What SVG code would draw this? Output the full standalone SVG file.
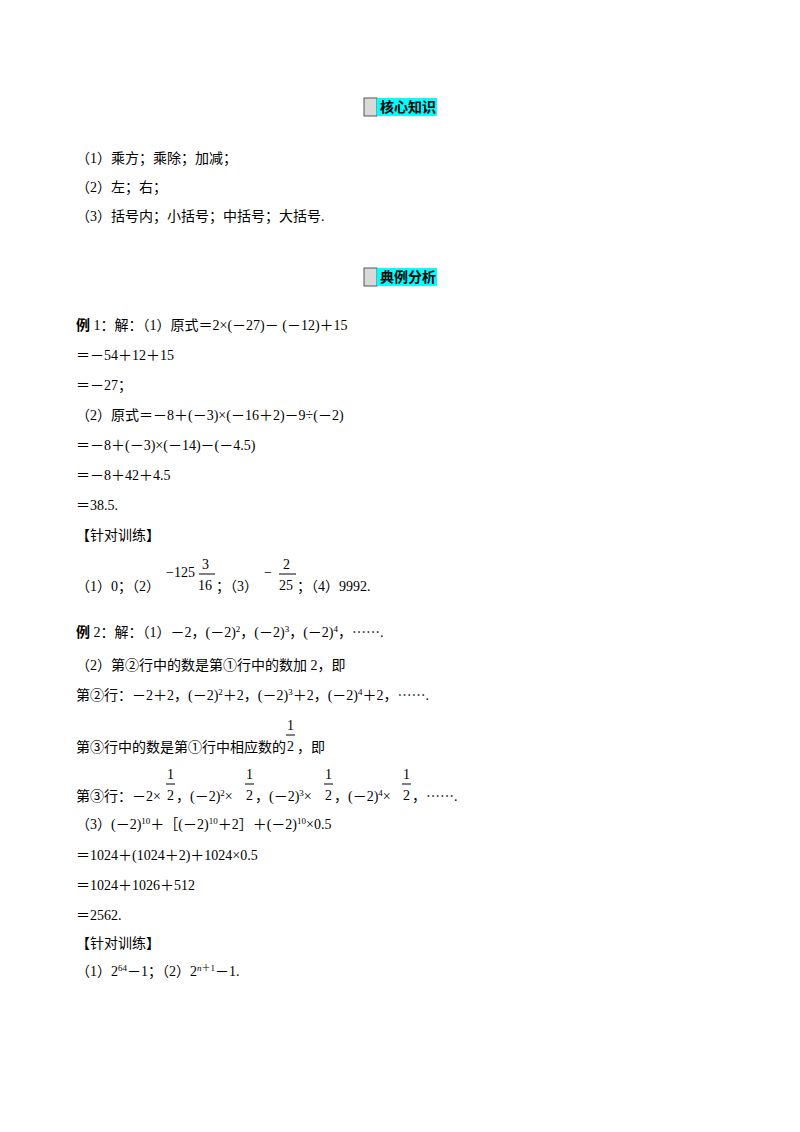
<svg xmlns="http://www.w3.org/2000/svg" width="800" height="1132" viewBox="0 0 800 1132">
<style>
text{font-family:"Liberation Serif","Noto Sans CJK SC",serif;font-size:14px;fill:#000}
.h{font-family:"Noto Sans CJK SC",sans-serif;font-weight:bold;font-size:14px}
.b{font-weight:bold}
.s{font-size:9px}
line{stroke:#000;stroke-width:1}
</style>
<rect width="800" height="1132" fill="#fff"/>
<g id="hdr1"><rect x="364" y="98" width="13" height="18" fill="#d9d9d9" stroke="#555"/><rect x="377" y="98" width="60" height="18" fill="#00ffff"/><text class="h" x="380" y="112">核心知识</text></g>
<text x="76" y="163">（1）乘方；乘除；加减；</text>
<text x="76" y="192">（2）左；右；</text>
<text x="76" y="221">（3）括号内；小括号；中括号；大括号.</text>
<g id="hdr2"><rect x="364" y="268" width="13" height="18" fill="#d9d9d9" stroke="#555"/><rect x="377" y="268" width="60" height="18" fill="#00ffff"/><text class="h" x="380" y="282">典例分析</text></g>
<text x="76" y="330"><tspan class="b">例</tspan> 1：解：（1）原式＝2×(－27)－ (－12)＋15</text>
<text x="76" y="360">＝－54＋12＋15</text>
<text x="76" y="390">＝－27；</text>
<text x="76" y="420">（2）原式＝－8＋(－3)×(－16＋2)－9÷(－2)</text>
<text x="76" y="450">＝－8＋(－3)×(－14)－(－4.5)</text>
<text x="76" y="480">＝－8＋42＋4.5</text>
<text x="76" y="510">＝38.5.</text>
<text x="76" y="540">【针对训练】</text>
<text x="76" y="591">（1）0；（2）</text>
<text x="166" y="577">−125</text>
<text x="202" y="569">3</text><line x1="199" y1="574" x2="215" y2="574"/><text x="198" y="590">16</text>
<text x="216" y="591">；（3）</text>
<text x="264" y="577">−</text>
<text x="283" y="569">2</text><line x1="279" y1="574" x2="296" y2="574"/><text x="279" y="590">25</text>
<text x="297" y="591">；（4）9992.</text>
<text x="76" y="637"><tspan class="b">例</tspan> 2：解：（1）－2，(－2)<tspan class="s" dy="-5">2</tspan><tspan dy="5">，(－2)</tspan><tspan class="s" dy="-5">3</tspan><tspan dy="5">，(－2)</tspan><tspan class="s" dy="-5">4</tspan><tspan dy="5">，⋯⋯.</tspan></text>
<text x="76" y="670">（2）第②行中的数是第①行中的数加 2，即</text>
<text x="76" y="700">第②行：－2＋2，(－2)<tspan class="s" dy="-5">2</tspan><tspan dy="5">＋2，(－2)</tspan><tspan class="s" dy="-5">3</tspan><tspan dy="5">＋2，(－2)</tspan><tspan class="s" dy="-5">4</tspan><tspan dy="5">＋2，⋯⋯.</tspan></text>
<text x="76" y="752">第③行中的数是第①行中相应数的</text>
<text x="287" y="730">1</text><line x1="286" y1="735" x2="295" y2="735"/><text x="287" y="751">2</text>
<text x="297" y="752">，即</text>
<text x="76" y="801">第③行：－2×</text>
<text x="167" y="779">1</text><line x1="166" y1="784" x2="175" y2="784"/><text x="167" y="800">2</text>
<text x="176" y="801">，(－2)<tspan class="s" dy="-5">2</tspan><tspan dy="5">×</tspan></text>
<text x="246" y="779">1</text><line x1="245" y1="784" x2="254" y2="784"/><text x="246" y="800">2</text>
<text x="255" y="801">，(－2)<tspan class="s" dy="-5">3</tspan><tspan dy="5">×</tspan></text>
<text x="325" y="779">1</text><line x1="324" y1="784" x2="333" y2="784"/><text x="325" y="800">2</text>
<text x="334" y="801">，(－2)<tspan class="s" dy="-5">4</tspan><tspan dy="5">×</tspan></text>
<text x="403" y="779">1</text><line x1="402" y1="784" x2="411" y2="784"/><text x="403" y="800">2</text>
<text x="412" y="801">，⋯⋯.</text>
<text x="76" y="829">（3）(－2)<tspan class="s" dy="-5">10</tspan><tspan dy="5">＋［(－2)</tspan><tspan class="s" dy="-5">10</tspan><tspan dy="5">＋2］＋(－2)</tspan><tspan class="s" dy="-5">10</tspan><tspan dy="5">×0.5</tspan></text>
<text x="76" y="860">＝1024＋(1024＋2)＋1024×0.5</text>
<text x="76" y="890">＝1024＋1026＋512</text>
<text x="76" y="920">＝2562.</text>
<text x="76" y="948">【针对训练】</text>
<text x="76" y="976">（1）2<tspan class="s" dy="-5">64</tspan><tspan dy="5">－1；（2）2</tspan><tspan class="s" dy="-5" font-style="italic">n</tspan><tspan class="s">＋1</tspan><tspan dy="5">－1.</tspan></text>
</svg>
